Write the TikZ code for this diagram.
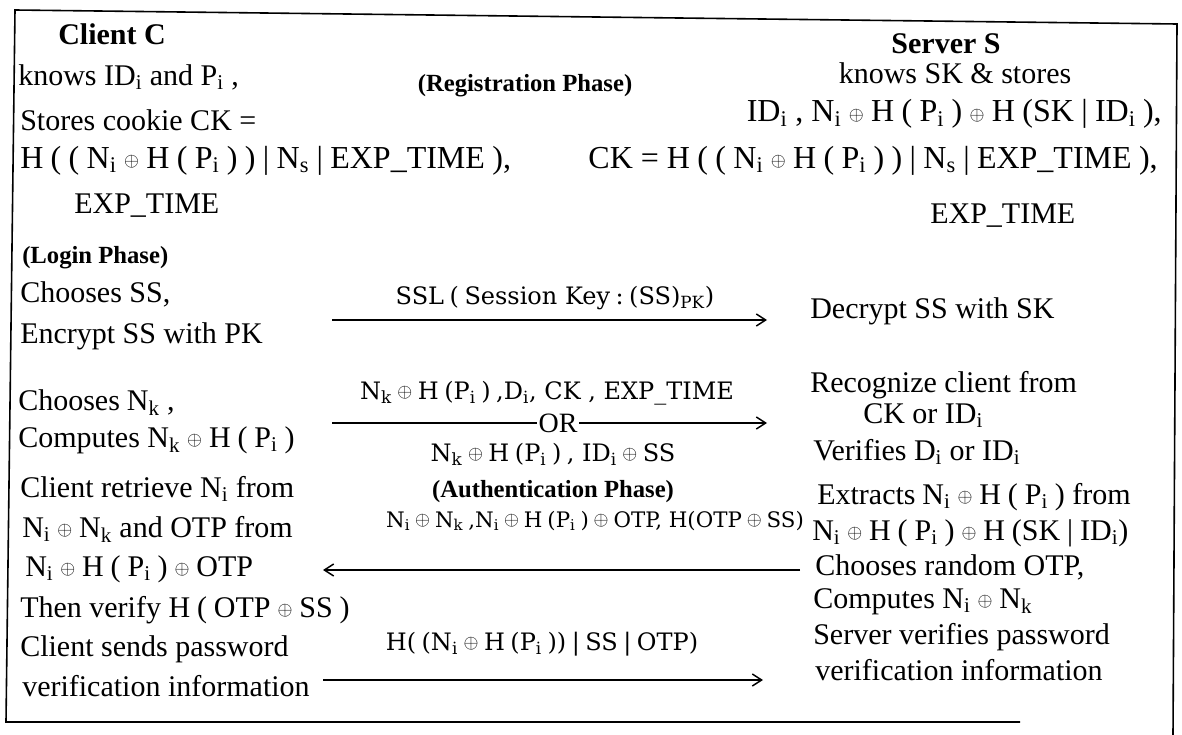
\documentclass[tikz,border=0pt]{standalone}
\usepackage{fontspec}
\usepackage{graphicx}
\setmainfont{Liberation Serif}
\newfontfamily\lblfont{DejaVu Serif}
\usetikzlibrary{arrows.meta}
\newcommand\lo[1]{\textsubscript{#1}}
\newcommand\g{\hspace{0.23em}}
\newcommand\xo{\g\raisebox{1.4pt}{\fontsize{14}{14}\selectfont$\oplus$}\g}
\tikzset{
  txt/.style={inner sep=0pt, anchor=base west, font=\fontsize{22.5}{27}\selectfont},
  frm/.style={inner sep=0pt, anchor=base west, font=\fontsize{24}{28}\selectfont},
  hdr/.style={inner sep=0pt, anchor=base, font=\bfseries\fontsize{22.5}{26}\selectfont},
  phase/.style={inner sep=0pt, anchor=base, font=\bfseries\fontsize{18.5}{22}\selectfont},
  lbl/.style={inner sep=0pt, anchor=base, font=\lblfont\fontsize{18}{21}\selectfont},
  msg/.style={line width=1.1pt, -{Straight Barb[length=7pt,width=9pt,line width=1.1pt]}},
  frame/.style={line width=1.2pt}
}
\begin{document}
\begin{tikzpicture}[x=0.75pt,y=-0.75pt]
\useasboundingbox (0,0) rectangle (1182,735);
\draw[frame] (1173,735) -- (1177,24) -- (15,10) -- (6,722) -- (1020,722);

% client column
\node[hdr] (clienthdr) at (112,45) {Client C};
\node[txt] (c1) at (18,85) {knows ID\lo{i} and P\lo{i} ,};
\node[txt] (c2) at (20,130) {Stores cookie CK =};
\node[frm] (c3) at (20,168) {H\g(\g(\g N\lo{i}\xo H\g(\g P\lo{i}\g)\g)\g|\g N\lo{s}\g|\g EXP\_TIME\g),};
\node[txt] (c4) at (74,213) {EXP\_TIME};

\node[phase] (reg) at (525,92) {(Registration Phase)};

% server column
\node[hdr] (serverhdr) at (946,54) {Server S};
\node[txt, anchor=base] (s1) at (955,84) {knows SK \& stores};
\node[frm, anchor=base east] (s2) at (1162,122) {ID\lo{i} , N\lo{i}\xo H\g(\g P\lo{i}\g)\xo H\g(SK\g|\g ID\lo{i}\g),};
\node[frm, anchor=base east] (s3) at (1158,168) {CK = H\g(\g(\g N\lo{i}\xo H\g(\g P\lo{i}\g)\g)\g|\g N\lo{s}\g|\g EXP\_TIME\g),};
\node[txt] (s4) at (930,223) {EXP\_TIME};

% login phase
\node[phase, anchor=base west] (login) at (22,263) {(Login Phase)};
\node[txt] (l1) at (20,302) {Chooses SS,};
\node[txt] (l2) at (20,343) {Encrypt SS with PK};
\node[txt] (l3) at (18,410) {Chooses\g N\lo{k} ,};
\node[txt] (l4) at (18,447) {Computes N\lo{k}\xo H\g(\g P\lo{i}\g)};
\node[txt] (l5) at (20,497) {Client retrieve N\lo{i} from};
\node[txt] (l6) at (22,537) {N\lo{i}\xo N\lo{k} and OTP from};
\node[txt] (l7) at (25,576) {N\lo{i}\xo H\g(\g P\lo{i}\g)\xo OTP};
\node[txt] (l8) at (20,617) {Then verify H\g(\g OTP\xo SS\g)};
\node[txt] (l9) at (20,656) {Client sends password};
\node[txt] (l10) at (22,696) {verification information};

% server actions
\node[txt] (r1) at (810,318) {Decrypt SS with SK};
\node[txt] (r2) at (810,392) {Recognize client from};
\node[txt] (r3) at (863,423) {CK or ID\lo{i}};
\node[txt] (r4) at (813,460) {Verifies D\lo{i} or ID\lo{i}};
\node[txt] (r5) at (817,504) {Extracts\g N\lo{i}\xo H\g(\g P\lo{i}\g) from};
\node[txt] (r6) at (812,540) {N\lo{i}\xo H\g(\g P\lo{i}\g)\xo H\g(SK\g|\g ID\lo{i})};
\node[txt] (r7) at (815,575) {Chooses random OTP,};
\node[txt] (r8) at (813,608) {Computes N\lo{i}\xo N\lo{k}};
\node[txt] (r9) at (813,644) {Server verifies password};
\node[txt] (r10) at (815,680) {verification information};

% messages
\coordinate (m1s) at (332,320); \coordinate (m1e) at (767,320);
\coordinate (m2s) at (332,423); \coordinate (m2e) at (767,423);
\coordinate (m3s) at (800,570); \coordinate (m3e) at (323,570);
\coordinate (m4s) at (323,680); \coordinate (m4e) at (763,680);

\draw[msg] (m1s) -- (m1e);
\node[lbl] (m1l) at (555,304) {SSL\g(\g Session Key\g:\g(SS)\lo{PK})};

\draw[msg] (m2s) -- (m2e);
\node[lbl] (m2a) at (547,399) {N\lo{k}\xo H\g(P\lo{i}\g)\g,D\lo{i}, CK , EXP\_TIME};
\node[txt, anchor=center, fill=white, inner xsep=1pt, inner ysep=0pt, font=\fontsize{21}{24}\selectfont] (or) at (558,423) {OR};
\node[lbl] (m2b) at (553,461) {N\lo{k}\xo H\g(P\lo{i}\g)\g, ID\lo{i}\xo SS};

\node[phase] (auth) at (553,497) {(Authentication Phase)};
\draw[msg] (m3s) -- (m3e);
\node[lbl, font=\lblfont\fontsize{16}{19}\selectfont] (m3l) at (595,527) {N\lo{i}\xo N\lo{k}\g,N\lo{i}\xo H\g(P\lo{i}\g)\xo OTP, H(OTP\xo SS)};

\draw[msg] (m4s) -- (m4e);
\node[lbl] (m4l) at (542,650) {H(\g(N\lo{i}\xo H\g(P\lo{i}\g))\g|\g SS\g|\g OTP)};
\end{tikzpicture}
\end{document}
